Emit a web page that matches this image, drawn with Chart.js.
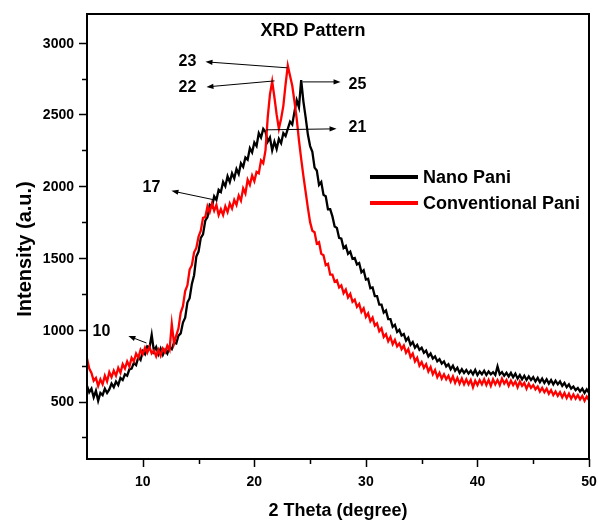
<!DOCTYPE html>
<html>
<head>
<meta charset="utf-8">
<title>XRD Pattern</title>
<script src="https://cdn.jsdelivr.net/npm/chart.js@4.4.1/dist/chart.umd.min.js"></script>
<style>
  html, body { margin: 0; padding: 0; background: #fff; }
</style>
</head>
<body>
<canvas id="xrdChart" width="598" height="525"></canvas>
<script>
// 2 theta positions (degree)
const twoTheta = [
  5.0, 5.2, 5.4, 5.6, 5.8, 6.0, 6.2, 6.4, 6.6, 6.8,
  7.0, 7.2, 7.4, 7.6, 7.8, 8.0, 8.2, 8.4, 8.6, 8.8,
  9.0, 9.2, 9.4, 9.6, 9.8, 10.0, 10.2, 10.4, 10.6, 10.8,
  11.0, 11.2, 11.4, 11.6, 11.8, 12.0, 12.2, 12.4, 12.6, 12.8,
  13.0, 13.2, 13.4, 13.6, 13.8, 14.0, 14.2, 14.4, 14.6, 14.8,
  15.0, 15.2, 15.4, 15.6, 15.8, 16.0, 16.2, 16.4, 16.6, 16.8,
  17.0, 17.2, 17.4, 17.6, 17.8, 18.0, 18.2, 18.4, 18.6, 18.8,
  19.0, 19.2, 19.4, 19.6, 19.8, 20.0, 20.2, 20.4, 20.6, 20.8,
  21.0, 21.2, 21.4, 21.6, 21.8, 22.0, 22.2, 22.4, 22.6, 22.8,
  23.0, 23.2, 23.4, 23.6, 23.8, 24.0, 24.2, 24.4, 24.6, 24.8,
  25.0, 25.2, 25.4, 25.6, 25.8, 26.0, 26.2, 26.4, 26.6, 26.8,
  27.0, 27.2, 27.4, 27.6, 27.8, 28.0, 28.2, 28.4, 28.6, 28.8,
  29.0, 29.2, 29.4, 29.6, 29.8, 30.0, 30.2, 30.4, 30.6, 30.8,
  31.0, 31.2, 31.4, 31.6, 31.8, 32.0, 32.2, 32.4, 32.6, 32.8,
  33.0, 33.2, 33.4, 33.6, 33.8, 34.0, 34.2, 34.4, 34.6, 34.8,
  35.0, 35.2, 35.4, 35.6, 35.8, 36.0, 36.2, 36.4, 36.6, 36.8,
  37.0, 37.2, 37.4, 37.6, 37.8, 38.0, 38.2, 38.4, 38.6, 38.8,
  39.0, 39.2, 39.4, 39.6, 39.8, 40.0, 40.2, 40.4, 40.6, 40.8,
  41.0, 41.2, 41.4, 41.6, 41.8, 42.0, 42.2, 42.4, 42.6, 42.8,
  43.0, 43.2, 43.4, 43.6, 43.8, 44.0, 44.2, 44.4, 44.6, 44.8,
  45.0, 45.2, 45.4, 45.6, 45.8, 46.0, 46.2, 46.4, 46.6, 46.8,
  47.0, 47.2, 47.4, 47.6, 47.8, 48.0, 48.2, 48.4, 48.6, 48.8,
  49.0, 49.2, 49.4, 49.6, 49.8, 50.0
];

// intensity (a.u.)
const nanoPani = [
  610, 565, 590, 530, 575, 505, 560, 545, 590, 560,
  585, 625, 600, 640, 615, 665, 650, 690, 680, 725,
  730, 770, 755, 810, 790, 850, 830, 885, 875, 965,
  850, 880, 830, 870, 825, 860, 835, 880, 865, 910,
  905, 960, 975, 1050, 1085, 1190, 1220, 1320, 1380, 1510,
  1545, 1640, 1665, 1760, 1785, 1870, 1855, 1930, 1905, 1975,
  1960, 2030, 2000, 2070, 2030, 2090, 2055, 2120, 2085, 2160,
  2135, 2200, 2185, 2265, 2235, 2305, 2280, 2370, 2340, 2400,
  2380, 2310, 2340, 2250, 2310, 2260, 2330, 2300, 2370, 2350,
  2400, 2450, 2430, 2520, 2600, 2550, 2740, 2590, 2480, 2360,
  2280, 2240, 2130, 2110, 2010, 2030, 1940, 1930, 1840, 1840,
  1790, 1720, 1710, 1640, 1635, 1570, 1585, 1530, 1545, 1495,
  1500, 1455, 1465, 1400, 1415, 1350, 1355, 1290, 1295, 1235,
  1235, 1175, 1175, 1120, 1135, 1075, 1075, 1020, 1035, 985,
  1000, 960, 970, 925, 945, 895, 915, 875, 895, 860,
  875, 840, 855, 815, 835, 800, 815, 780, 795, 765,
  780, 745, 760, 725, 750, 715, 735, 700, 725, 700,
  720, 695, 715, 690, 720, 685, 710, 690, 715, 685,
  710, 690, 705, 685, 745, 690, 705, 680, 700, 675,
  700, 670, 695, 660, 685, 655, 680, 650, 675, 650,
  670, 640, 665, 635, 660, 630, 655, 625, 650, 620,
  645, 620, 640, 610, 630, 600, 620, 590, 605, 580,
  595, 570, 590, 560, 585, 560
];

const conventionalPani = [
  800, 730, 700, 645, 665, 610, 655, 620, 680, 640,
  705, 670, 715, 680, 735, 700, 760, 730, 780, 745,
  805, 780, 835, 805, 860, 830, 875, 840, 880, 835,
  855, 815, 860, 820, 870, 845, 890, 860, 1040, 905,
  960, 1010, 1120, 1165, 1270, 1310, 1420, 1450, 1540, 1570,
  1650, 1690, 1780, 1785, 1860, 1820, 1880, 1830, 1870, 1800,
  1840, 1800, 1860, 1820, 1880, 1845, 1905, 1870, 1935, 1900,
  1985, 1950, 2045, 2010, 2075, 2035, 2100, 2090, 2180, 2160,
  2250, 2480, 2640, 2730, 2620, 2500, 2400, 2470, 2560, 2710,
  2840, 2770, 2700, 2590, 2470, 2320, 2190, 2070, 1960, 1850,
  1750, 1690, 1680, 1600, 1610, 1530, 1520, 1450, 1460, 1385,
  1385, 1335, 1345, 1295, 1310, 1255, 1280, 1225, 1250, 1195,
  1210, 1160, 1180, 1125, 1150, 1090, 1115, 1060, 1085, 1030,
  1045, 990, 1010, 950, 970, 920, 950, 900, 930, 885,
  905, 865, 890, 840, 865, 810, 835, 780, 805, 750,
  775, 735, 760, 710, 740, 690, 720, 670, 700, 660,
  690, 655, 680, 640, 675, 630, 665, 625, 660, 620,
  655, 620, 650, 600, 645, 615, 650, 620, 655, 615,
  650, 610, 655, 620, 650, 615, 660, 625, 650, 610,
  645, 615, 640, 600, 640, 610, 630, 590, 625, 595,
  615, 585, 605, 570, 595, 565, 590, 555, 580, 545,
  570, 540, 565, 530, 560, 525, 555, 520, 550, 520,
  545, 515, 540, 505, 535, 510
];

const seriesNames = ["Nano Pani", "Conventional Pani"];
const seriesColors = ["#000000", "#ff0000"];

// tick labels
const xTickLabels = [10, 20, 30, 40, 50];
const yTickLabels = [500, 1000, 1500, 2000, 2500, 3000];
const xMinorTicks = [15, 25, 35, 45];
const yMinorTicks = [250, 750, 1250, 1750, 2250, 2750];

// peak labels: text position and arrow (from -> to), in data units
const peakText = ["23", "22", "25", "21", "17", "10"];
const peakTextAt = [[14.0, 2867], [14.0, 2685], [29.25, 2706], [29.25, 2407], [10.78, 1988], [6.29, 985]];
const peakArrowFrom = [[22.97, 2825], [21.81, 2734], [24.32, 2727], [21.09, 2393], [16.43, 1905], [10.33, 908]];
const peakArrowTo = [[15.62, 2867], [15.71, 2692], [27.73, 2727], [27.37, 2400], [12.57, 1968], [8.71, 957]];

const FONT = '"Liberation Sans", Arial, sans-serif';

function toPoints(xs, ys) {
  return xs.map((v, i) => ({ x: v, y: ys[i] }));
}

function drawArrow(ctx, x1, y1, x2, y2) {
  const ang = Math.atan2(y2 - y1, x2 - x1);
  const L = 7, W = 2.6;
  ctx.beginPath();
  ctx.moveTo(x1, y1);
  ctx.lineTo(x2 - L * 0.6 * Math.cos(ang), y2 - L * 0.6 * Math.sin(ang));
  ctx.stroke();
  ctx.beginPath();
  ctx.moveTo(x2, y2);
  ctx.lineTo(x2 - L * Math.cos(ang) + W * Math.sin(ang), y2 - L * Math.sin(ang) - W * Math.cos(ang));
  ctx.lineTo(x2 - L * Math.cos(ang) - W * Math.sin(ang), y2 - L * Math.sin(ang) + W * Math.cos(ang));
  ctx.closePath();
  ctx.fill();
}

// axes box, ticks, tick labels, title, legend, axis titles and peak arrows
const framePlugin = {
  id: "frame",
  afterDatasetsDraw(chart) {
    const { ctx, chartArea: a, scales } = chart;
    const x = scales.x, y = scales.y;
    ctx.save();
    ctx.strokeStyle = "#000";
    ctx.fillStyle = "#000";

    ctx.lineWidth = 2;
    ctx.strokeRect(a.left, a.top, a.right - a.left, a.bottom - a.top);

    ctx.lineWidth = 1.5;
    ctx.beginPath();
    xTickLabels.forEach((v) => {
      const px = Math.round(x.getPixelForValue(v)) + 0.5;
      ctx.moveTo(px, a.bottom); ctx.lineTo(px, a.bottom + 8);
    });
    xMinorTicks.forEach((v) => {
      const px = Math.round(x.getPixelForValue(v)) + 0.5;
      ctx.moveTo(px, a.bottom); ctx.lineTo(px, a.bottom + 5);
    });
    yTickLabels.forEach((v) => {
      const py = Math.round(y.getPixelForValue(v)) + 0.5;
      ctx.moveTo(a.left, py); ctx.lineTo(a.left - 8, py);
    });
    yMinorTicks.forEach((v) => {
      const py = Math.round(y.getPixelForValue(v)) + 0.5;
      ctx.moveTo(a.left, py); ctx.lineTo(a.left - 5, py);
    });
    ctx.stroke();

    // tick labels
    ctx.font = "bold 14px " + FONT;
    ctx.textBaseline = "middle";
    ctx.textAlign = "center";
    xTickLabels.forEach((v) => {
      ctx.fillText(String(v), x.getPixelForValue(v), a.bottom + 23);
    });
    ctx.textAlign = "right";
    yTickLabels.forEach((v) => {
      ctx.fillText(String(v), a.left - 13, y.getPixelForValue(v) + 1);
    });

    // peak annotations
    ctx.lineWidth = 1;
    ctx.font = "bold 16px " + FONT;
    ctx.textAlign = "center";
    peakText.forEach((t, i) => {
      ctx.fillText(t, x.getPixelForValue(peakTextAt[i][0]), y.getPixelForValue(peakTextAt[i][1]));
      drawArrow(ctx,
        x.getPixelForValue(peakArrowFrom[i][0]), y.getPixelForValue(peakArrowFrom[i][1]),
        x.getPixelForValue(peakArrowTo[i][0]), y.getPixelForValue(peakArrowTo[i][1]));
    });

    // title inside the plot
    ctx.font = "bold 18px " + FONT;
    ctx.fillText("XRD Pattern", 313, 31);

    // legend
    const legY = [177, 203];
    chart.data.datasets.forEach((ds, i) => {
      ctx.strokeStyle = ds.borderColor;
      ctx.lineWidth = 4;
      ctx.beginPath();
      ctx.moveTo(370, legY[i]);
      ctx.lineTo(418, legY[i]);
      ctx.stroke();
      ctx.fillStyle = "#000";
      ctx.textAlign = "left";
      ctx.fillText(ds.label, 423, legY[i] + 1);
    });

    // axis titles
    ctx.textAlign = "center";
    ctx.font = "bold 18px " + FONT;
    ctx.fillText("2 Theta (degree)", (a.left + a.right) / 2, 511);
    ctx.save();
    ctx.translate(25, 249);
    ctx.rotate(-Math.PI / 2);
    ctx.font = "bold 20px " + FONT;
    ctx.fillText("Intensity (a.u.)", 0, 0);
    ctx.restore();

    ctx.restore();
  }
};

new Chart(document.getElementById("xrdChart"), {
  type: "line",
  data: {
    datasets: [
      {
        label: seriesNames[0],
        data: toPoints(twoTheta, nanoPani),
        borderColor: seriesColors[0],
        borderWidth: 2.3,
        pointRadius: 0,
        tension: 0,
        order: 2,
      },
      {
        label: seriesNames[1],
        data: toPoints(twoTheta, conventionalPani),
        borderColor: seriesColors[1],
        borderWidth: 2.3,
        pointRadius: 0,
        tension: 0,
        order: 1,
      },
    ],
  },
  options: {
    responsive: false,
    animation: false,
    layout: { padding: { top: 14, right: 9, left: 87, bottom: 66 } },
    plugins: {
      legend: { display: false },
      tooltip: { enabled: false },
    },
    scales: {
      x: { type: "linear", min: 5, max: 50, display: false },
      y: { type: "linear", min: 100, max: 3200, display: false },
    },
  },
  plugins: [framePlugin],
});
</script>
</body>
</html>
